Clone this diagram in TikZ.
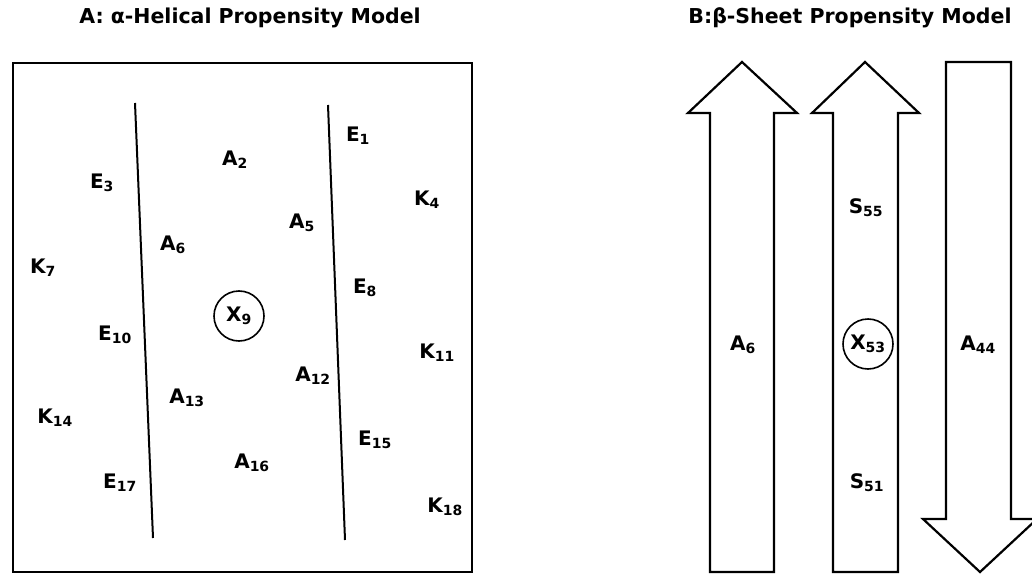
\documentclass[tikz,border=0pt]{standalone}
\usepackage{fontspec}
\setmainfont{DejaVu Sans}
\usetikzlibrary{positioning}

\begin{document}
\begin{tikzpicture}[
  x=1pt, y=-1pt,
  res/.style={font=\fontsize{20}{20}\selectfont\bfseries, inner sep=0pt},
  site/.style={res, circle, draw, line width=1.6pt, minimum size=50pt},
  ttl/.style={font=\fontsize{20.5}{21}\selectfont\bfseries},
  frame/.style={line width=2.2pt},
  helix/.style={line width=2pt},
  strand/.style={line width=2.2pt, line join=miter}
]
  \useasboundingbox (0,0) rectangle (1032,580);

  % titles
  \node[ttl] (ttlA) at (250,18) {A: α-Helical Propensity Model};
  \node[ttl] (ttlB) at (850,18) {B:β-Sheet Propensity Model};

  % A: helical wheel box
  \draw[frame] (13,63) rectangle (472,572);
  \draw[helix] (135,103) -- (153,538);
  \draw[helix] (328,105) -- (345,540);

  \node[res] (e1)  at (358,136) {E\textsubscript{1}};
  \node[res] (a2)  at (235,160) {A\textsubscript{2}};
  \node[res] (e3)  at (102,183) {E\textsubscript{3}};
  \node[res] (k4)  at (427,200) {K\textsubscript{4}};
  \node[res] (a5)  at (302,223) {A\textsubscript{5}};
  \node[res] (a6)  at (173,245) {A\textsubscript{6}};
  \node[res] (k7)  at (43,268)  {K\textsubscript{7}};
  \node[res] (e8)  at (365,288) {E\textsubscript{8}};
  \node[site] (x9) at (239,316) {X\textsubscript{9}};
  \node[res] (e10) at (115,335) {E\textsubscript{10}};
  \node[res] (k11) at (437,353) {K\textsubscript{11}};
  \node[res] (a12) at (313,376) {A\textsubscript{12}};
  \node[res] (a13) at (187,398) {A\textsubscript{13}};
  \node[res] (k14) at (55,418)  {K\textsubscript{14}};
  \node[res] (e15) at (375,440) {E\textsubscript{15}};
  \node[res] (a16) at (252,463) {A\textsubscript{16}};
  \node[res] (e17) at (120,483) {E\textsubscript{17}};
  \node[res] (k18) at (445,507) {K\textsubscript{18}};

  % B: strands
  \draw[strand] (710,572) -- (710,113) -- (688,113) -- (742,62)
    -- (797,113) -- (774,113) -- (774,572) -- cycle;
  \draw[strand] (833,572) -- (833,113) -- (812,113) -- (865,62)
    -- (919,113) -- (898,113) -- (898,572) -- cycle;
  \draw[strand] (946,62) -- (946,519) -- (923,519) -- (980,572)
    -- (1037,519) -- (1011,519) -- (1011,62) -- cycle;

  \node[res] (a6b)  at (743,345) {A\textsubscript{6}};
  \node[res] (s55)  at (866,208) {S\textsubscript{55}};
  \node[site] (x53) at (868,344) {X\textsubscript{53}};
  \node[res] (s51)  at (867,483) {S\textsubscript{51}};
  \node[res] (a44)  at (978,345) {A\textsubscript{44}};
\end{tikzpicture}
\end{document}
